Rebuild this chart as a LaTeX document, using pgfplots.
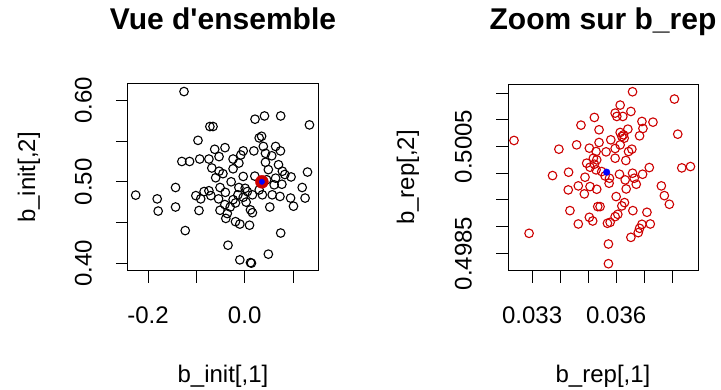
\documentclass[border=0pt]{standalone}
\usepackage{pgfplots}
\pgfplotsset{compat=1.18}
\usepackage{fontspec}
\setmainfont{Liberation Sans}
\definecolor{rred}{RGB}{205,0,0}
\definecolor{rblue}{RGB}{0,0,255}
\begin{document}
\begin{tikzpicture}
\path[use as bounding box] (0pt,0pt) rectangle (721pt,390pt);
\pgfplotsset{rstyle/.style={
  scale only axis, width=190pt, height=187pt,
  axis line style={line width=1pt},
  every tick/.style={line width=1pt, black},
  tick align=outside, major tick length=12pt,
  xtick pos=bottom, ytick pos=left,
  font=\fontsize{24}{28}\selectfont,
  xticklabel style={anchor=north, inner sep=0pt, yshift=-23.7pt},
  yticklabel style={xshift=-24pt, rotate=90, anchor=south, inner sep=0pt},
  title style={anchor=base, font=\bfseries\fontsize{30}{36}\selectfont},
  xlabel style={anchor=base},
  ylabel style={anchor=base},
}}
\begin{axis}[rstyle, at={(128pt,119pt)}, anchor=south west,
  xmin=-0.2414, xmax=0.1517, ymin=0.3903, ymax=0.6203,
  xtick={-0.2,-0.1,0,0.1}, xticklabels={-0.2,,0.0,},
  ytick={0.40,0.45,0.50,0.55,0.60}, yticklabels={0.40,,0.50,,0.60},
  title={Vue d\textquotesingle ensemble}, title style={at={(axis description cs:0.5,1.2567)}},
  xlabel={b\_init[,1]}, xlabel style={at={(axis description cs:0.5,-0.594)}},
  ylabel={b\_init[,2]}, ylabel style={at={(axis description cs:-0.489,0.5)}},
]
\addplot[only marks, mark=o, mark size=4.3pt, mark options={line width=1.1pt, black}] table {
x y
-0.1255 0.611
0.0214 0.577
0.041 0.581
0.0745 0.581
0.134 0.570
-0.072 0.568
-0.0655 0.568
-0.0966 0.551
0.030 0.554
0.035 0.556
-0.062 0.540
-0.0407 0.542
-0.003 0.538
0.019 0.538
0.0386 0.5435
0.064 0.5435
0.074 0.538
-0.130 0.525
-0.114 0.525
-0.093 0.528
-0.074 0.528
-0.053 0.531
-0.024 0.528
-0.008 0.533
0.043 0.535
0.056 0.532
-0.068 0.517
-0.053 0.513
-0.045 0.510
-0.024 0.516
-0.012 0.523
0.043 0.524
0.070 0.521
0.078 0.513
0.083 0.509
0.096 0.506
0.130 0.512
-0.003 0.5066
0.021 0.507
0.049 0.515
0.064 0.5045
0.077 0.497
-0.2255 0.4836
-0.181 0.479
-0.179 0.464
-0.143 0.493
-0.143 0.469
-0.123 0.440
-0.0945 0.4647
-0.101 0.483
-0.084 0.488
-0.074 0.489
-0.070 0.483
-0.051 0.493
-0.091 0.479
-0.054 0.479
-0.051 0.465
-0.041 0.472
-0.036 0.461
-0.039 0.455
-0.030 0.469
-0.024 0.478
-0.019 0.474
-0.014 0.484
-0.012 0.493
0.001 0.492
-0.003 0.481
0.0055 0.488
0.016 0.484
-0.019 0.451
-0.010 0.448
0.010 0.4466
0.012 0.4655
0.016 0.462
0.0366 0.484
0.052 0.469
0.057 0.484
0.073 0.482
0.095 0.480
0.101 0.470
0.119 0.493
0.125 0.480
0.0745 0.437
-0.0345 0.422
0.049 0.411
-0.010 0.404
0.012 0.4006
0.014 0.400
0.061 0.4963
0.0455 0.5025
-0.028 0.500
-0.040 0.487
0.030 0.490
-0.060 0.505
0.003 0.475
};
\addplot[only marks, mark=*, mark size=6.5pt, mark options={draw=rred, fill=rred}] coordinates {(0.0356,0.5)};
\addplot[only marks, mark=*, mark size=2.7pt, mark options={draw=rblue, fill=rblue}] coordinates {(0.0356,0.5)};
\end{axis}
\begin{axis}[rstyle, at={(508pt,119pt)}, anchor=south west,
  xmin=0.03214, xmax=0.03892, ymin=0.49817, ymax=0.50167,
  xtick={0.033,0.034,0.035,0.036,0.037,0.038}, xticklabels={0.033,,,0.036,,},
  ytick={0.4985,0.4990,0.4995,0.5000,0.5005,0.5010,0.5015}, yticklabels={0.4985,,,,0.5005,,},
  scaled ticks=false,
  title={Zoom sur b\_rep}, title style={at={(axis description cs:0.5,1.2567)}},
  xlabel={b\_rep[,1]}, xlabel style={at={(axis description cs:0.5,-0.594)}},
  ylabel={b\_rep[,2]}, ylabel style={at={(axis description cs:-0.494,0.5)}},
]
\addplot[only marks, mark=o, mark size=4.3pt, mark options={line width=1.1pt, rred}] table {
x y
0.036584 0.501525
0.038078 0.501388
0.036142 0.501275
0.036525 0.501156
0.035963 0.501125
0.036023 0.501063
0.036238 0.501063
0.035222 0.501044
0.036919 0.500969
0.037313 0.500956
0.034744 0.500900
0.035389 0.500813
0.036417 0.500825
0.036955 0.500838
0.038197 0.500731
0.032355 0.500613
0.036142 0.500763
0.036262 0.500719
0.036835 0.500700
0.036202 0.500688
0.036286 0.500656
0.035808 0.500625
0.035389 0.500575
0.034589 0.500531
0.033956 0.500450
0.035043 0.500469
0.035282 0.500406
0.035640 0.500400
0.035963 0.500463
0.036560 0.500450
0.036441 0.500406
0.035186 0.500281
0.035963 0.500281
0.036345 0.500238
0.035222 0.500169
0.035067 0.500113
0.035282 0.500063
0.037182 0.500106
0.038341 0.500100
0.038651 0.500125
0.033729 0.499956
0.034302 0.500019
0.035485 0.500031
0.035604 0.499950
0.035760 0.499906
0.036118 0.499981
0.036584 0.500000
0.036943 0.499981
0.036644 0.499906
0.036321 0.499875
0.034888 0.499925
0.034649 0.499763
0.034290 0.499688
0.034864 0.499613
0.035067 0.499750
0.035306 0.499700
0.035748 0.499813
0.036357 0.499706
0.036716 0.499794
0.037612 0.499763
0.037719 0.499581
0.037898 0.499419
0.035999 0.499563
0.036297 0.499450
0.036202 0.499388
0.035342 0.499375
0.035425 0.499375
0.034350 0.499300
0.036596 0.499300
0.037098 0.499269
0.036059 0.499231
0.035963 0.499188
0.035043 0.499175
0.035162 0.499106
0.034649 0.499050
0.035688 0.499063
0.035784 0.499081
0.036919 0.499044
0.037217 0.499050
0.036835 0.498969
0.032892 0.498875
0.036525 0.498800
0.036787 0.498888
0.035724 0.498675
0.035724 0.498306
0.034947 0.500188
0.035306 0.500250
0.036142 0.500531
};
\addplot[only marks, mark=*, mark size=3.3pt, mark options={draw=rblue, fill=rblue}] coordinates {(0.03566,0.50002)};
\end{axis}
\end{tikzpicture}
\end{document}
